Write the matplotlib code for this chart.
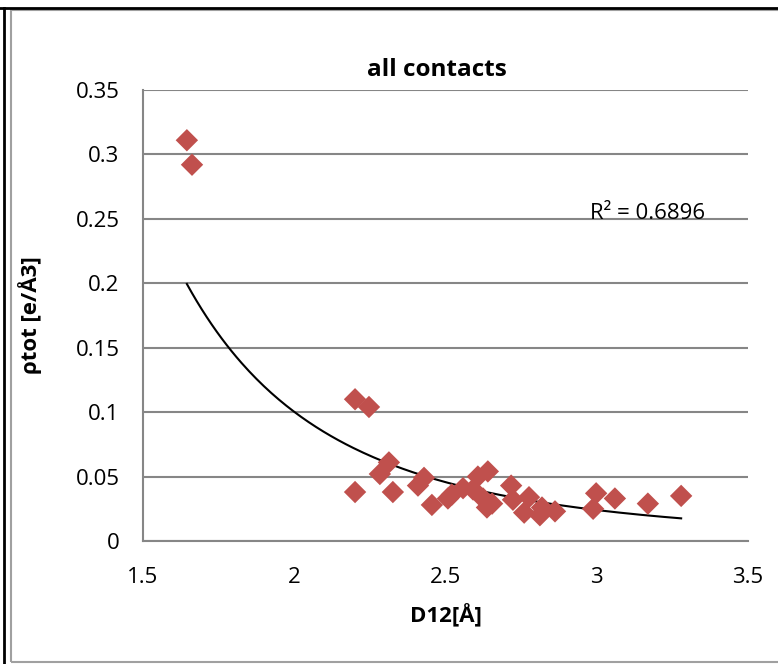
import numpy as np
import matplotlib
matplotlib.use("Agg")
import matplotlib.pyplot as plt
from matplotlib.patches import Rectangle
from matplotlib.lines import Line2D

# D12 distances and total density at the contact points
d12 = [1.645, 1.662, 2.201, 2.247, 2.201, 2.283, 2.313, 2.326, 2.409, 2.429,
       2.455, 2.508, 2.521, 2.558, 2.591, 2.607, 2.640, 2.624, 2.637, 2.654,
       2.717, 2.723, 2.776, 2.760, 2.819, 2.812, 2.862, 2.998, 2.988, 3.060,
       3.169, 3.279]
rho_tot = [0.311, 0.292, 0.110, 0.104, 0.038, 0.052, 0.061, 0.038, 0.043, 0.049,
           0.028, 0.033, 0.036, 0.041, 0.040, 0.050, 0.054, 0.033, 0.026, 0.029,
           0.043, 0.032, 0.034, 0.022, 0.026, 0.020, 0.023, 0.037, 0.025, 0.033,
           0.029, 0.035]

x_ticks = [1.5, 2, 2.5, 3, 3.5]
y_ticks = [0, 0.05, 0.1, 0.15, 0.2, 0.25, 0.3, 0.35]
x_ticklabels = ["1.5", "2", "2.5", "3", "3.5"]
y_ticklabels = ["0", "0.05", "0.1", "0.15", "0.2", "0.25", "0.3", "0.35"]
r2_label = "R² = 0.6896"

plt.rcParams['font.family'] = ['Open Sans', 'DejaVu Sans']

fig = plt.figure(figsize=(7.78, 6.64), dpi=100)
ax = fig.add_axes([143/778, 123/664, 605/778, 451/664])

# power-law trend line (least squares in log-log space)
x = np.array(d12)
y = np.array(rho_tot)
b, ln_a = np.polyfit(np.log(x), np.log(y), 1)
xs = np.linspace(x.min(), x.max(), 200)
ax.plot(xs, np.exp(ln_a) * xs ** b, color="black", lw=1.5, zorder=2)

ax.scatter(d12, rho_tot, marker="D", s=130, color="#c0504d", edgecolors="none",
           zorder=3)

ax.set_xlim(1.5, 3.5)
ax.set_ylim(0, 0.35)
ax.set_xticks(x_ticks)
ax.set_xticklabels(x_ticklabels)
ax.set_yticks(y_ticks)
ax.set_yticklabels(y_ticklabels)
ax.tick_params(length=0, labelsize=16)
ax.tick_params(axis="x", pad=19)
ax.tick_params(axis="y", pad=17)
ax.grid(axis="y", color="#868686", lw=1.5)
ax.set_axisbelow(True)
for s in ["top", "right"]:
    ax.spines[s].set_visible(False)
for s in ["left", "bottom"]:
    ax.spines[s].set_color("#868686")
    ax.spines[s].set_linewidth(1.5)

ax.set_title("all contacts", fontsize=17.5, fontweight="bold", pad=10, x=0.485)
ax.set_xlabel("D12[Å]", fontsize=16, fontweight="bold", labelpad=11)
ax.set_ylabel("ρtot [e/Å3]", fontsize=16, fontweight="bold", labelpad=24)
ax.text(2.978, 0.2545, r2_label, fontsize=16, va="center", ha="left")

# chart frame and page border lines
fig.patches.append(Rectangle((11/778, 2/664), 1.0, 652/664,
                             transform=fig.transFigure, fill=False,
                             edgecolor="#a0a0a0", lw=1.5))
fig.lines.append(Line2D([0, 1], [656/664, 656/664], transform=fig.transFigure,
                        color="black", lw=2))
fig.lines.append(Line2D([4/778, 4/778], [0, 656/664], transform=fig.transFigure,
                        color="black", lw=2))

fig.savefig("out.png", dpi=100)
